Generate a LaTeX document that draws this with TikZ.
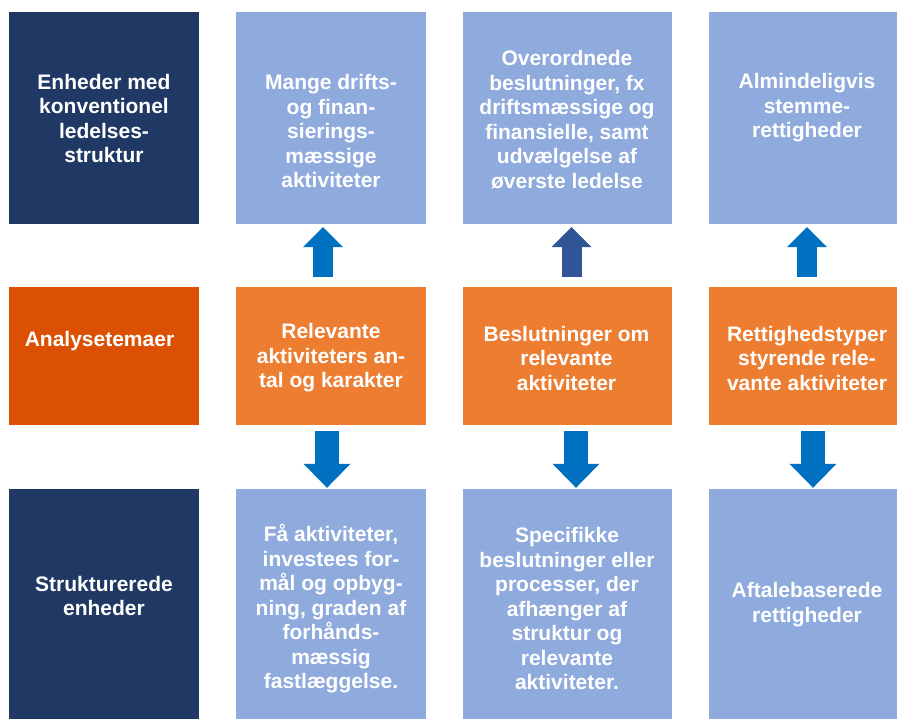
\documentclass[tikz,border=0pt]{standalone}
\usepackage{fontspec}
\setmainfont{Liberation Sans}
\usetikzlibrary{arrows.meta}
\definecolor{navy}{HTML}{203864}
\definecolor{lightblue}{HTML}{8FAADC}
\definecolor{lightorange}{HTML}{ED7D31}
\definecolor{darkorange}{HTML}{DC5004}
\definecolor{arrowblue}{HTML}{0070C0}
\definecolor{arrowdark}{HTML}{2F5597}
\tikzset{
	navybox/.style={fill=navy,inner sep=0pt},
	bluebox/.style={fill=lightblue,inner sep=0pt},
	orangebox/.style={fill=lightorange,inner sep=0pt},
	themebox/.style={fill=darkorange,inner sep=0pt},
	txt/.style={text=white,align=center,inner sep=0pt,font=\bfseries\fontsize{21}{24.5}\selectfont},
	uparrow/.style={line width=20pt,-{Triangle[width=40pt,length=20pt,line width=0pt]},shorten <=10pt,shorten >=3pt},
	downarrow/.style={line width=24pt,-{Triangle[width=47pt,length=24pt,line width=0pt]},shorten <=6pt,shorten >=1pt}
}
\begin{document}
\begin{tikzpicture}[x=1pt,y=-1pt]
		\useasboundingbox (0,0) rectangle (897,719);
		\node[navybox,minimum width=190pt,minimum height=212pt] (Enheder) at (104,118) {};
		\node[bluebox,minimum width=190pt,minimum height=212pt] (Mange) at (331,118) {};
		\node[bluebox,minimum width=209pt,minimum height=212pt] (Overordnede) at (567.5,118) {};
		\node[bluebox,minimum width=192pt,minimum height=212pt] (Almindelig) at (805,118) {};
		\node[themebox,minimum width=190pt,minimum height=138pt] (Analyse) at (104,356) {};
		\node[orangebox,minimum width=190pt,minimum height=138pt] (Relevante) at (331,356) {};
		\node[orangebox,minimum width=209pt,minimum height=138pt] (Beslut) at (567.5,356) {};
		\node[orangebox,minimum width=192pt,minimum height=138pt] (Rettighed) at (805,356) {};
		\node[navybox,minimum width=190pt,minimum height=230pt] (Struktur) at (104,604) {};
		\node[bluebox,minimum width=190pt,minimum height=230pt] (Faa) at (331,604) {};
		\node[bluebox,minimum width=209pt,minimum height=230pt] (Specifikke) at (567.5,604) {};
		\node[bluebox,minimum width=192pt,minimum height=230pt] (Aftale) at (805,604) {};
		
		\node[txt] (EnhederTxt) at (104,118.5) {Enheder med\\konventionel\\ledelses-\\struktur};
		\node[txt] (MangeTxt) at (331,131) {Mange drifts-\\og finan-\\sierings-\\mæssige\\aktiviteter};
		\node[txt] (OverordnedeTxt) at (567,119.5) {Overordnede\\beslutninger, fx\\driftsmæssige og\\finansielle, samt\\udvælgelse af\\øverste ledelse};
		\node[txt] (AlmindeligTxt) at (807,108) {Almindeligvis\\stemme-\\rettigheder};
		\node[txt] (AnalyseTxt) at (99.5,341) {Analysetemaer};
		\node[txt] (RelevanteTxt) at (331,358) {Relevante\\aktiviteters an-\\tal og karakter};
		\node[txt] (BeslutTxt) at (566.5,358) {Beslutninger om\\relevante\\aktiviteter};
		\node[txt] (RettighedTxt) at (807,358) {Rettighedstyper\\styrende rele-\\vante aktiviteter};
		\node[txt] (StrukturTxt) at (104,596) {Strukturerede\\enheder};
		\node[txt] (FaaTxt) at (331,609) {Få aktiviteter,\\investees for-\\mål og opbyg-\\ning, graden af\\forhånds-\\mæssig\\fastlæggelse.};
		\node[txt] (SpecifikkeTxt) at (567,608.5) {Specifikke\\beslutninger eller\\processer, der\\afhænger af\\struktur og\\relevante\\aktiviteter.};
		\node[txt] (AftaleTxt) at (807,604.5) {Aftalebaserede\\rettigheder};
		
		\draw[uparrow,arrowblue] ([xshift=-8pt]Relevante.north) -- ([xshift=-8pt]Mange.south);
		\draw[uparrow,arrowdark] ([xshift=4pt]Beslut.north) -- ([xshift=4pt]Overordnede.south);
		\draw[uparrow,arrowblue] ([xshift=2pt]Rettighed.north) -- ([xshift=2pt]Almindelig.south);
		\draw[downarrow,arrowblue] ([xshift=-4pt]Relevante.south) -- ([xshift=-4pt]Faa.north);
		\draw[downarrow,arrowblue] ([xshift=8.5pt]Beslut.south) -- ([xshift=8.5pt]Specifikke.north);
		\draw[downarrow,arrowblue] ([xshift=8pt]Rettighed.south) -- ([xshift=8pt]Aftale.north);
	\end{tikzpicture}
\end{document}
